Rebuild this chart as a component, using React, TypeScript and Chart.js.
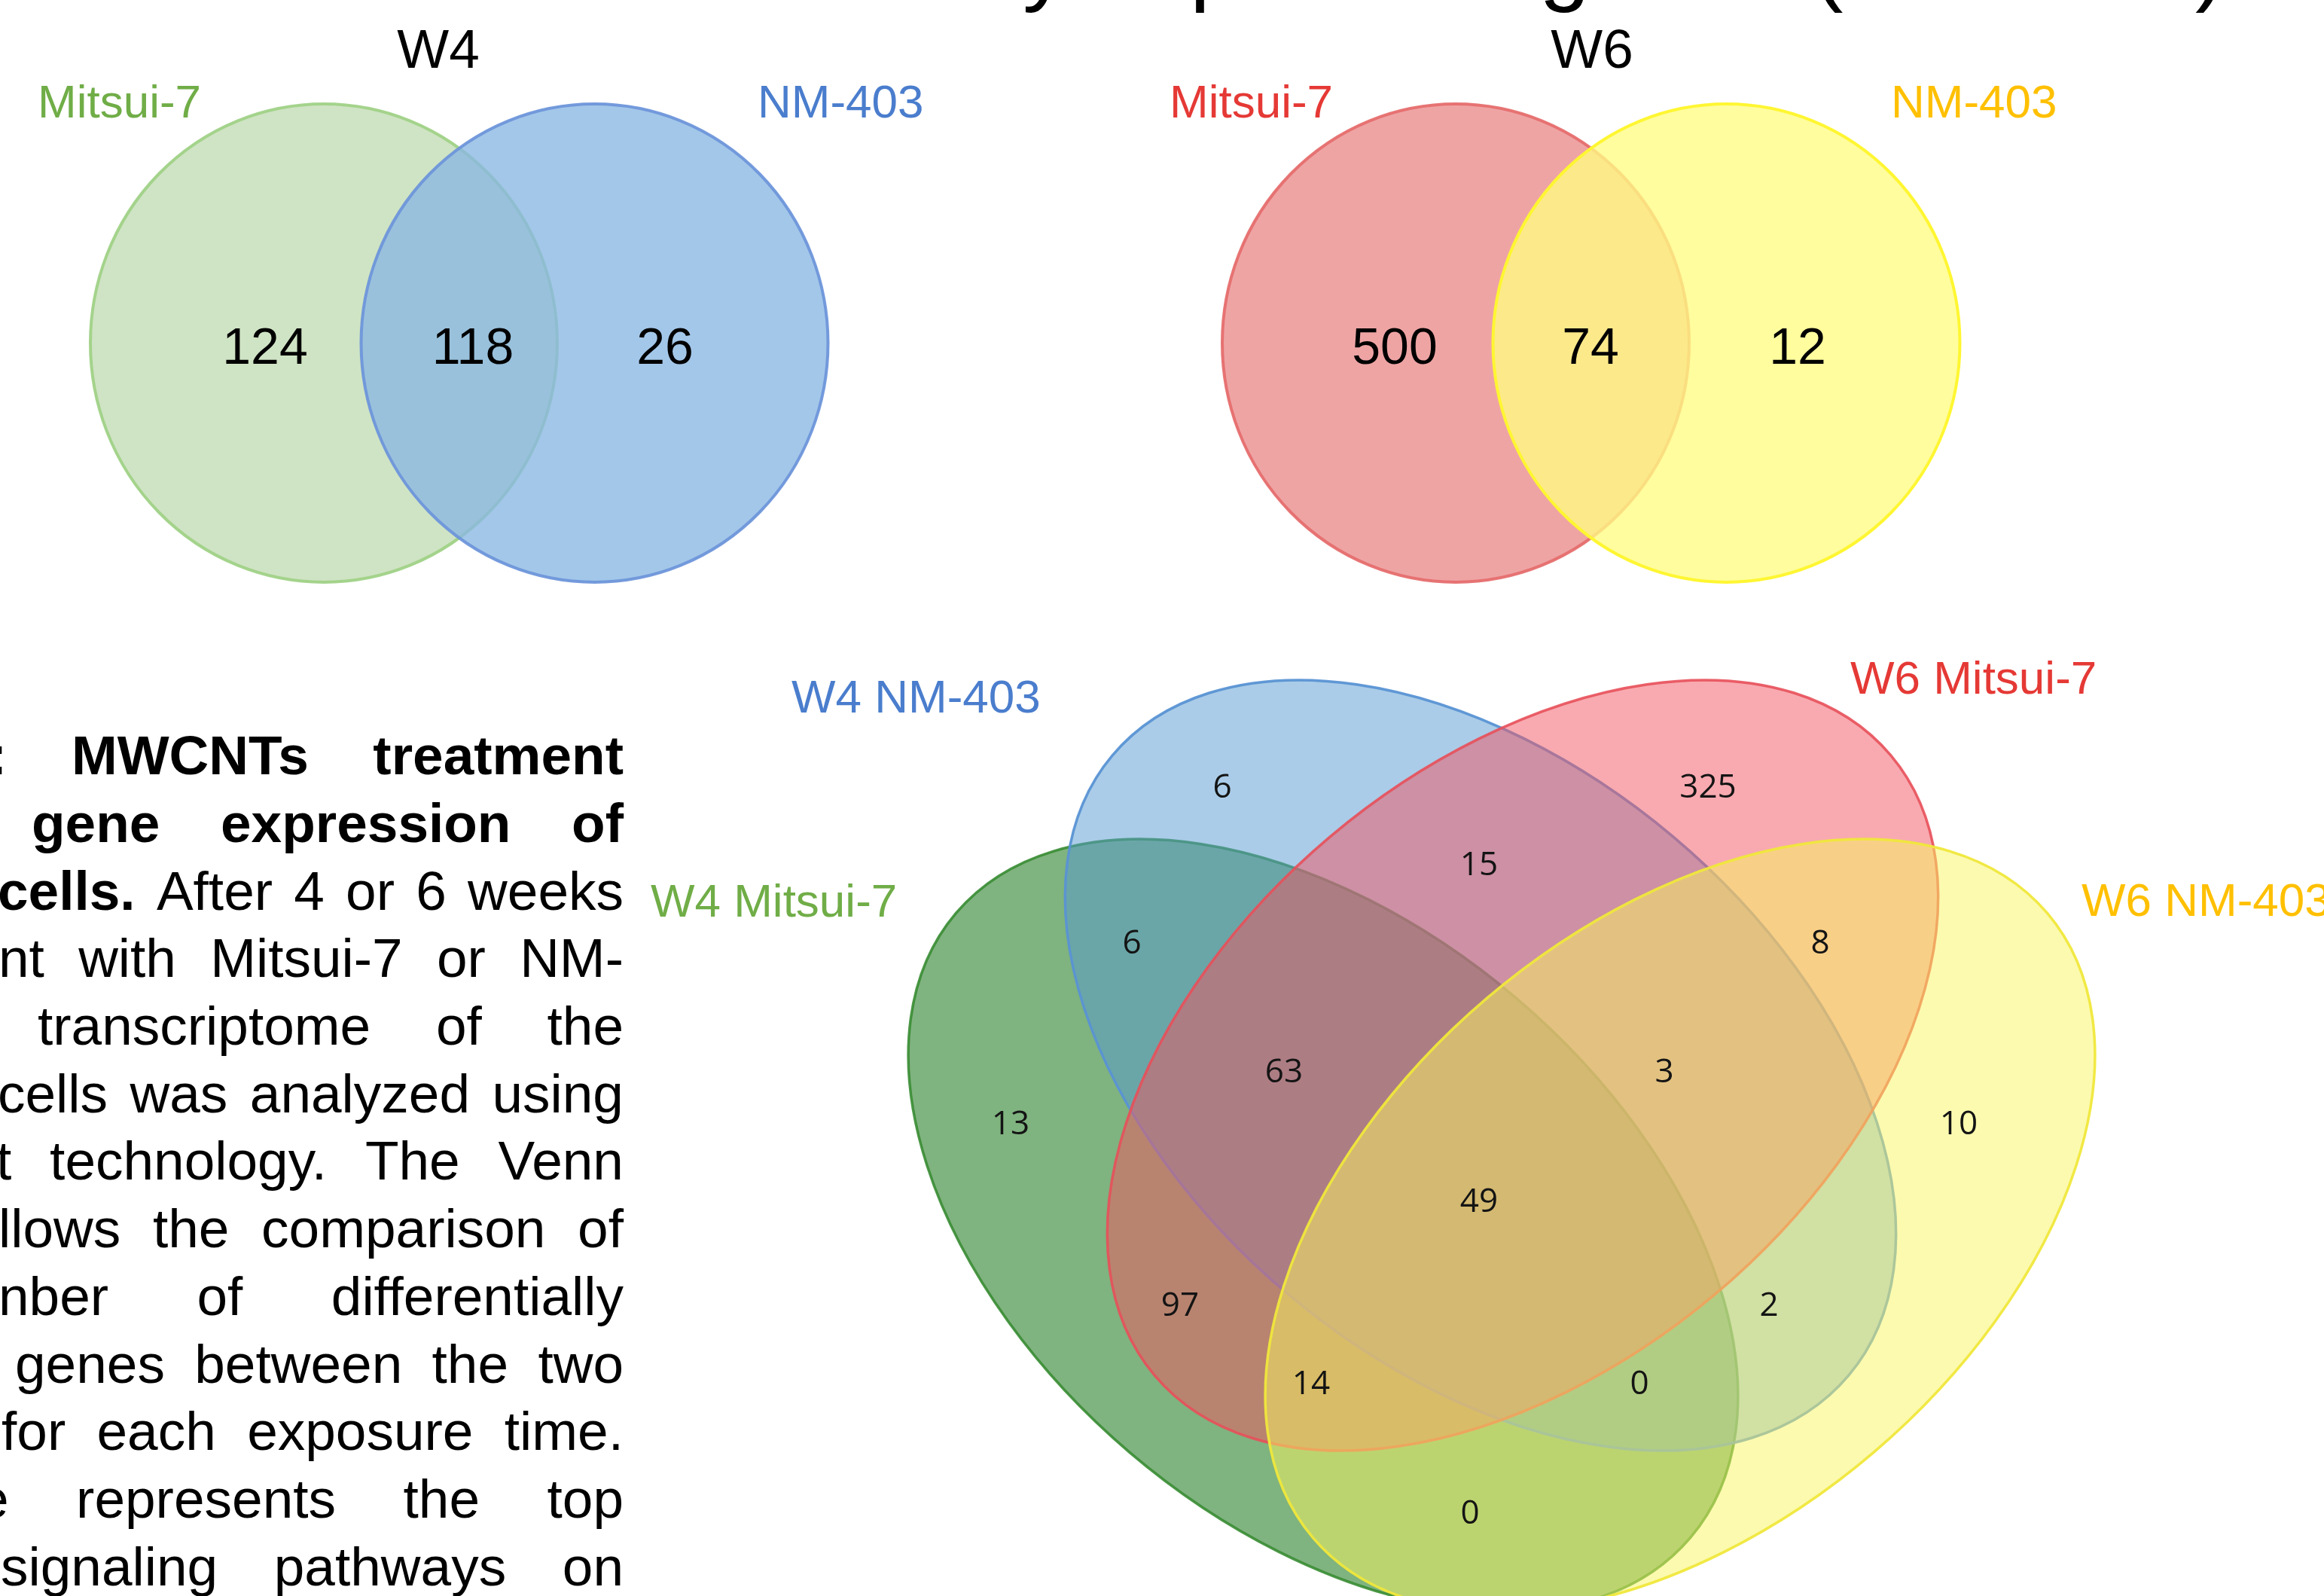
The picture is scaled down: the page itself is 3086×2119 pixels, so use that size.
import React, { useEffect, useRef } from "react";
import { Chart, registerables } from "chart.js";

Chart.register(...registerables);

const PAGE_W = 3086;
const PAGE_H = 2119;

// ---------------- data ----------------
const titleText = "Differentially expressed genes (FC > 1.5)";

const w4Title = "W4";
const w4Sets = ["Mitsui-7", "NM-403"];
const w4Regions = ["Mitsui-7 only", "Mitsui-7 & NM-403", "NM-403 only"];
const w4Counts = [124, 118, 26];

const w6Title = "W6";
const w6Sets = ["Mitsui-7", "NM-403"];
const w6Regions = ["Mitsui-7 only", "Mitsui-7 & NM-403", "NM-403 only"];
const w6Counts = [500, 74, 12];

// G = W4 Mitsui-7, B = W4 NM-403, R = W6 Mitsui-7, Y = W6 NM-403
const quadSets = ["W4 Mitsui-7", "W4 NM-403", "W6 Mitsui-7", "W6 NM-403"];
const quadRegions = ["B", "R", "BR", "GB", "RY", "GBR", "BRY", "G", "Y", "GBRY", "GR", "BY", "GRY", "GBY", "GY"];
const quadCounts = [6, 325, 15, 6, 8, 63, 3, 13, 10, 49, 97, 2, 14, 0, 0];

// ---------------- layout (page units) ----------------
const w4CountPos = [[352, 459], [628, 459], [883, 459]];
const w6CountPos = [[1852, 459], [2112, 459], [2387, 459]];
const quadCountPos = [
  [1623, 1043], [2268, 1043], [1964, 1146], [1503, 1250], [2417, 1250],
  [1705, 1421], [2210, 1421], [1342, 1490], [2601, 1490], [1964, 1593],
  [1567, 1731], [2349, 1731], [1741, 1835], [2177, 1835], [1952, 2007],
];

type Ell = { cx: number; cy: number; rx: number; ry: number; rot: number; fill: string; stroke: string; lw: number };

const w4Ellipses: Ell[] = [
  { cx: 430, cy: 455.5, rx: 310, ry: 317.5, rot: 0, fill: "rgb(207,228,196)", stroke: "rgba(160,210,135,0.95)", lw: 4 },
  { cx: 789.5, cy: 455.5, rx: 310, ry: 317.5, rot: 0, fill: "rgba(137,183,227,0.78)", stroke: "rgba(110,150,218,0.95)", lw: 4 },
];
const w6Ellipses: Ell[] = [
  { cx: 1933, cy: 455.5, rx: 310, ry: 317.5, rot: 0, fill: "rgb(239,164,164)", stroke: "rgba(230,110,110,0.95)", lw: 4 },
  { cx: 2292.5, cy: 455.5, rx: 310, ry: 317.5, rot: 0, fill: "rgba(255,252,131,0.78)", stroke: "rgba(255,246,50,1)", lw: 4 },
];
const quadEllipses: Ell[] = [
  { cx: 1757, cy: 1627, rx: 640, ry: 396, rot: 40.4, fill: "rgba(0,103,0,0.5)", stroke: "rgba(55,140,50,0.9)", lw: 3.5 },
  { cx: 1966, cy: 1414.5, rx: 639, ry: 397, rot: 40.1, fill: "rgba(85,153,209,0.5)", stroke: "rgba(90,148,212,0.95)", lw: 3.5 },
  { cx: 2022, cy: 1414.5, rx: 639, ry: 397, rot: -40.1, fill: "rgba(241,85,97,0.5)", stroke: "rgba(232,80,90,0.9)", lw: 3.5 },
  { cx: 2231, cy: 1627, rx: 640, ry: 396, rot: -40.4, fill: "rgba(249,245,95,0.5)", stroke: "rgba(240,232,60,0.95)", lw: 3.5 },
];

const ARIAL = '"Liberation Sans", Arial, Helvetica, sans-serif';

type Lbl = { text: string; x: number; y: number; color: string; size: number; align: CanvasTextAlign };
const headingLabels: Lbl[] = [
  { text: w4Title, x: 582, y: 90, color: "#000", size: 73, align: "center" },
  { text: w6Title, x: 2114, y: 90, color: "#000", size: 73, align: "center" },
  { text: w4Sets[0], x: 50, y: 156, color: "#70AD47", size: 62, align: "left" },
  { text: w4Sets[1], x: 1006, y: 156, color: "#4A7DCD", size: 62, align: "left" },
  { text: w6Sets[0], x: 1553, y: 156, color: "#E53935", size: 62, align: "left" },
  { text: w6Sets[1], x: 2511, y: 156, color: "#FFC000", size: 62, align: "left" },
  { text: quadSets[1], x: 1051, y: 946, color: "#4A7DCD", size: 62, align: "left" },
  { text: quadSets[2], x: 2457, y: 921, color: "#E53935", size: 62, align: "left" },
  { text: quadSets[0], x: 864, y: 1217, color: "#70AD47", size: 62, align: "left" },
  { text: quadSets[3], x: 2764, y: 1216, color: "#FFC000", size: 62, align: "left" },
];

// paragraph (left side, cut off by page edge)
const paraLines: { start: number; words: string[]; bold: number }[] = [
  { start: -15, words: [":", "MWCNTs", "treatment"], bold: 3 },
  { start: 42, words: ["gene", "expression", "of"], bold: 3 },
  { start: -3, words: ["cells.", "After", "4", "or", "6", "weeks"], bold: 1 },
  { start: -2, words: ["nt", "with", "Mitsui-7", "or", "NM-"], bold: 0 },
  { start: 50, words: ["transcriptome", "of", "the"], bold: 0 },
  { start: -3, words: ["cells", "was", "analyzed", "using"], bold: 0 },
  { start: -5, words: ["t", "technology.", "The", "Venn"], bold: 0 },
  { start: -2, words: ["llows", "the", "comparison", "of"], bold: 0 },
  { start: -2, words: ["nber", "of", "differentially"], bold: 0 },
  { start: 20, words: ["genes", "between", "the", "two"], bold: 0 },
  { start: 2, words: ["for", "each", "exposure", "time."], bold: 0 },
  { start: -29, words: ["e", "represents", "the", "top"], bold: 0 },
  { start: 1, words: ["signaling", "pathways", "on"], bold: 0 },
];
const PARA_FIRST_BASELINE = 1028;
const PARA_STEP = 89.7;
const PARA_SIZE = 73;
const PARA_RIGHT = 828;

const vennPlugin = {
  id: "vennShapes",
  afterDatasetsDraw(chart: any) {
    const ctx: CanvasRenderingContext2D = chart.ctx;
    const xs = chart.scales.x;
    const ys = chart.scales.y;
    const px = (v: number) => xs.getPixelForValue(v);
    const py = (v: number) => ys.getPixelForValue(v);
    const kx = Math.abs(px(1) - px(0));
    const ky = Math.abs(py(1) - py(0));

    const drawEll = (e: Ell) => {
      ctx.save();
      ctx.beginPath();
      ctx.translate(px(e.cx), py(e.cy));
      ctx.scale(kx, ky);
      ctx.rotate((e.rot * Math.PI) / 180);
      ctx.ellipse(0, 0, e.rx, e.ry, 0, 0, Math.PI * 2);
      ctx.restore();
      ctx.save();
      ctx.fillStyle = e.fill;
      ctx.fill();
      ctx.lineWidth = e.lw;
      ctx.strokeStyle = e.stroke;
      ctx.stroke();
      ctx.restore();
    };
    [...w4Ellipses, ...w6Ellipses, ...quadEllipses].forEach(drawEll);

    ctx.save();
    headingLabels.forEach((l) => {
      ctx.font = `${l.size}px ${ARIAL}`;
      ctx.fillStyle = l.color;
      ctx.textAlign = l.align;
      ctx.textBaseline = "alphabetic";
      ctx.fillText(l.text, px(l.x), py(l.y));
    });

    chart.data.datasets.forEach((ds: any, di: number) => {
      const meta = chart.getDatasetMeta(di);
      ctx.font = ds.labelFont;
      ctx.fillStyle = ds.labelColor;
      ctx.textAlign = "center";
      ctx.textBaseline = "alphabetic";
      meta.data.forEach((pt: any, i: number) => {
        ctx.fillText(String(ds.counts[i]), pt.x, pt.y + ds.labelSize * 0.358);
      });
    });
    ctx.restore();
  },
};

export default function App() {
  const ref = useRef<HTMLCanvasElement | null>(null);

  useEffect(() => {
    if (!ref.current) return;
    const mk = (pos: number[][]) => pos.map((p) => ({ x: p[0], y: p[1] }));
    const chart = new Chart(ref.current, {
      type: "scatter",
      data: {
        datasets: [
          { label: "W4", data: mk(w4CountPos), counts: w4Counts, regions: w4Regions, labelFont: `68px ${ARIAL}`, labelSize: 68, labelColor: "#000", pointRadius: 0 } as any,
          { label: "W6", data: mk(w6CountPos), counts: w6Counts, regions: w6Regions, labelFont: `68px ${ARIAL}`, labelSize: 68, labelColor: "#000", pointRadius: 0 } as any,
          { label: "Quad", data: mk(quadCountPos), counts: quadCounts, regions: quadRegions, labelFont: `44px "Open Sans", "Noto Sans", sans-serif`, labelSize: 44, labelColor: "#141414", pointRadius: 0 } as any,
        ],
      },
      options: {
        animation: false,
        responsive: false,
        devicePixelRatio: 1,
        events: [],
        layout: { padding: 0 },
        plugins: { legend: { display: false }, tooltip: { enabled: false }, title: { display: false } },
        scales: {
          x: { type: "linear", min: 0, max: PAGE_W, display: false },
          y: { type: "linear", min: 0, max: PAGE_H, reverse: true, display: false },
        },
      },
      plugins: [vennPlugin],
    });
    return () => chart.destroy();
  }, []);

  const lineHeight = PARA_SIZE;
  const baselineOffset = (lineHeight - 1.117 * PARA_SIZE) / 2 + 0.905 * PARA_SIZE;
  const titleSize = 121;
  const titleBaselineOffset = (titleSize - 1.117 * titleSize) / 2 + 0.905 * titleSize;

  return (
    <div style={{ position: "absolute", left: 0, top: 0, width: PAGE_W, height: PAGE_H, overflow: "hidden", background: "#fff" }}>
      <canvas ref={ref} width={PAGE_W} height={PAGE_H} style={{ position: "absolute", left: 0, top: 0, width: PAGE_W, height: PAGE_H }} />
      <div
        style={{
          position: "absolute",
          left: 755,
          top: -8 - titleBaselineOffset,
          fontFamily: ARIAL,
          fontSize: titleSize,
          lineHeight: `${titleSize}px`,
          whiteSpace: "nowrap",
          color: "#000",
        }}
      >
        {titleText}
      </div>
      {paraLines.map((ln, i) => (
        <div
          key={i}
          style={{
            position: "absolute",
            left: ln.start,
            width: PARA_RIGHT - ln.start,
            top: PARA_FIRST_BASELINE + i * PARA_STEP - baselineOffset,
            height: lineHeight,
            display: "flex",
            justifyContent: "space-between",
            fontFamily: ARIAL,
            fontSize: PARA_SIZE,
            lineHeight: `${lineHeight}px`,
            whiteSpace: "nowrap",
            color: "#000",
          }}
        >
          {ln.words.map((w, j) => (
            <span key={j} style={{ fontWeight: j < ln.bold ? "bold" : "normal" }}>
              {w}
            </span>
          ))}
        </div>
      ))}
    </div>
  );
}
